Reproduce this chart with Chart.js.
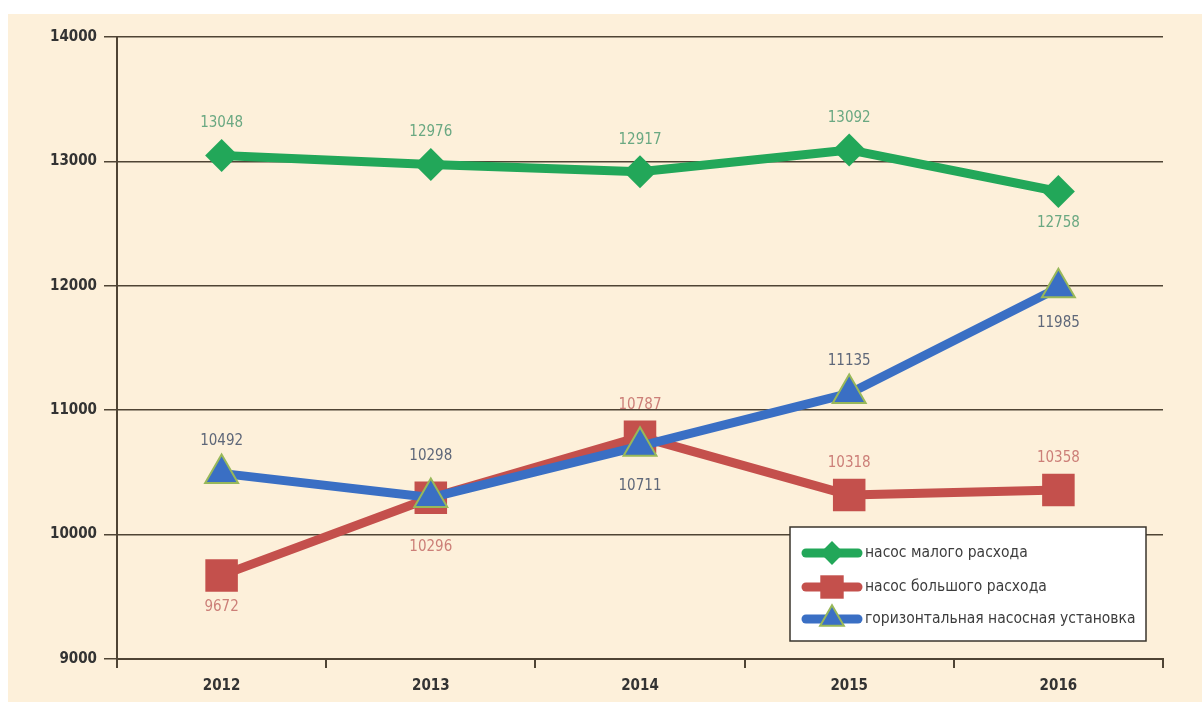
<!DOCTYPE html>
<html>
<head>
<meta charset="utf-8">
<script src="https://cdn.jsdelivr.net/npm/chart.js@4/dist/chart.umd.min.js"></script>
<style>
    body { margin: 0; background: #ffffff; }
    #wrap {
        position: absolute;
        left: 8px;
        top: 14px;
        width: 1194px;
        height: 688px;
        background: #fdf0da;
    }
</style>
</head>
<body>
<div id="wrap"><canvas id="chart" width="1194" height="688"></canvas></div>
<script>
// Годы и значения по каждому типу насосов
const years = ['2012', '2013', '2014', '2015', '2016'];
const smallPump = [13048, 12976, 12917, 13092, 12758];
const largePump = [9672, 10296, 10787, 10318, 10358];
const horizontalUnit = [10492, 10298, 10711, 11135, 11985];

// Где ставить подпись значения: выше (-1) или ниже (+1) точки
const smallPumpLabelSide = [-1, -1, -1, -1, 1];
const largePumpLabelSide = [1, 1.55, -1, -1, -1];
const horizontalUnitLabelSide = [-1, -1.3, 1.25, -1, 1.1];

const FONT = '"Liberation Sans Narrow", "DejaVu Sans Condensed", "Liberation Sans", sans-serif';
const AXIS_COLOR = '#4f4434';

// Подписи значений над/под точками
const valueLabels = {
    id: 'valueLabels',
    afterDatasetsDraw: (chart) => {
        const ctx = chart.ctx;
        ctx.save();
        ctx.font = '15px ' + FONT;
        ctx.textAlign = 'center';
        ctx.textBaseline = 'middle';
        chart.data.datasets.forEach((ds, i) => {
            const meta = chart.getDatasetMeta(i);
            meta.data.forEach((pt, j) => {
                ctx.fillStyle = ds.labelColor;
                ctx.fillText(String(ds.data[j]), pt.x, pt.y + ds.labelSide[j] * 32);
            });
        });
        ctx.restore();
    }
};

// Легенда в рамке в правом нижнем углу области графика
const boxLegend = {
    id: 'boxLegend',
    afterDraw: (chart) => {
        const ctx = chart.ctx;
        const left = 782, top = 513, width = 356, height = 114;
        ctx.save();
        ctx.fillStyle = '#ffffff';
        ctx.fillRect(left, top, width, height);
        ctx.strokeStyle = '#3a342c';
        ctx.lineWidth = 1.5;
        ctx.strokeRect(left, top, width, height);

        const rows = [539, 573, 605];
        chart.data.datasets.forEach((ds, i) => {
            const y = rows[i];
            ctx.strokeStyle = ds.borderColor;
            ctx.lineWidth = 9;
            ctx.lineCap = 'round';
            ctx.beginPath();
            ctx.moveTo(798, y);
            ctx.lineTo(850, y);
            ctx.stroke();

            ctx.fillStyle = ds.pointBackgroundColor;
            ctx.strokeStyle = ds.pointBorderColor;
            ctx.lineWidth = ds.pointBorderWidth;
            Chart.helpers.drawPoint(ctx, {
                pointStyle: ds.pointStyle,
                radius: ds.pointRadius * 0.72,
                borderWidth: ds.pointBorderWidth,
                rotation: 0
            }, 824, y);

            ctx.fillStyle = '#3d3d3d';
            ctx.font = '15.5px ' + FONT;
            ctx.textAlign = 'left';
            ctx.textBaseline = 'middle';
            ctx.fillText(ds.label, 857, y);
        });
        ctx.restore();
    }
};

const config = {
    type: 'line',
    data: {
        labels: years,
        datasets: [
            {
                label: 'насос малого расхода',
                data: smallPump,
                borderColor: '#22a759',
                backgroundColor: '#22a759',
                pointBackgroundColor: '#22a759',
                pointBorderColor: '#22a759',
                pointBorderWidth: 0,
                pointStyle: 'rectRot',
                pointRadius: 16.5,
                borderWidth: 9,
                labelColor: '#6aa882',
                labelSide: smallPumpLabelSide,
                order: 2
            },
            {
                label: 'насос большого расхода',
                data: largePump,
                borderColor: '#c4504c',
                backgroundColor: '#c4504c',
                pointBackgroundColor: '#c4504c',
                pointBorderColor: '#c4504c',
                pointBorderWidth: 0,
                pointStyle: 'rect',
                pointRadius: 23,
                borderWidth: 9,
                labelColor: '#cc7f78',
                labelSide: largePumpLabelSide,
                order: 1
            },
            {
                label: 'горизонтальная насосная установка',
                data: horizontalUnit,
                borderColor: '#3a6fc4',
                backgroundColor: '#3a6fc4',
                pointBackgroundColor: '#3a6fc4',
                pointBorderColor: '#98b85a',
                pointBorderWidth: 2,
                pointStyle: 'triangle',
                pointRadius: 19,
                borderWidth: 9,
                labelColor: '#5e6779',
                labelSide: horizontalUnitLabelSide,
                order: 0
            }
        ]
    },
    options: {
        responsive: false,
        animation: false,
        layout: {
            padding: { top: 22, right: 39, left: 0, bottom: 0 }
        },
        elements: {
            line: { tension: 0, borderCapStyle: 'round', borderJoinStyle: 'round' }
        },
        scales: {
            x: {
                offset: true,
                grid: {
                    offset: true,
                    drawOnChartArea: false,
                    drawTicks: true,
                    tickLength: 9,
                    color: AXIS_COLOR,
                    lineWidth: 2
                },
                border: { display: true, color: AXIS_COLOR, width: 2 },
                ticks: {
                    color: '#333333',
                    font: { family: FONT, size: 15, weight: 'bold' },
                    padding: 9
                },
                afterFit: (scale) => { scale.height = 43; }
            },
            y: {
                min: 9000,
                max: 14000,
                grid: {
                    color: AXIS_COLOR,
                    lineWidth: 1.5,
                    tickLength: 13
                },
                border: { display: true, color: AXIS_COLOR, width: 2 },
                ticks: {
                    stepSize: 1000,
                    color: '#333333',
                    font: { family: FONT, size: 15, weight: 'bold' },
                    padding: 7,
                    callback: (value) => String(value)
                },
                afterFit: (scale) => { scale.width = 109; }
            }
        },
        plugins: {
            legend: { display: false },
            tooltip: { enabled: false },
            title: { display: false }
        }
    },
    plugins: [valueLabels, boxLegend]
};

new Chart(document.getElementById('chart'), config);
</script>
</body>
</html>
